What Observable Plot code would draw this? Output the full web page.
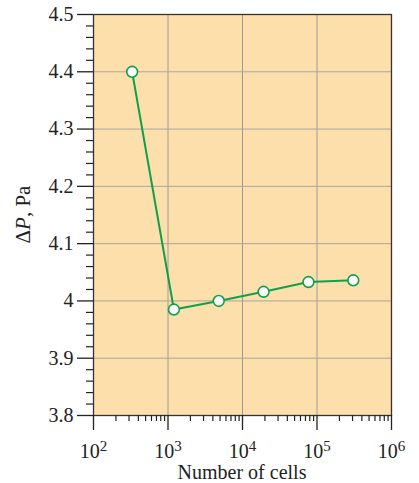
<!DOCTYPE html>
<html><head><meta charset="utf-8">
<script src="https://cdn.jsdelivr.net/npm/d3@7"></script>
<script src="https://cdn.jsdelivr.net/npm/@observablehq/plot@0.6"></script>
<style>body{margin:0;background:#fff}</style>
</head><body><div id="chart"></div>
<script>
const cells = [330, 1200, 4800, 19200, 76800, 307200];
const deltaP = [4.400, 3.985, 4.000, 4.016, 4.033, 4.036];
const xMajorTicks = [1e2, 1e3, 1e4, 1e5, 1e6];
const xExponents = ["2", "3", "4", "5", "6"];
const yMajorTicks = [3.8, 3.9, 4.0, 4.1, 4.2, 4.3, 4.4, 4.5];
const yTickLabels = ["3.8", "3.9", "4", "4.1", "4.2", "4.3", "4.4", "4.5"];
const xTitle = "Number of cells";

const data = cells.map((c, i) => ({cells: c, dp: deltaP[i]}));
const xMinor = d3.range(2, 6).flatMap(e => d3.range(2, 10).map(m => m * 10 ** e));
const yMinor = d3.range(0, 36).map(i => +(3.8 + i * 0.02).toFixed(2))
  .filter(v => !yMajorTicks.some(t => Math.abs(t - v) < 1e-9));

const W = 419, H = 483, mL = 93, mR = 28, mT = 14, mB = 68;
const green = "#0fa04a";

const plot = Plot.plot({
  width: W, height: H,
  marginTop: mT, marginRight: mR, marginBottom: mB, marginLeft: mL,
  style: {fontFamily: "'Liberation Serif', serif", fontSize: "20px", color: "#222", background: "white", overflow: "visible"},
  x: {type: "log", domain: [100, 1e6]},
  y: {domain: [3.8, 4.5]},
  marks: [
    Plot.frame({fill: "#fddfab", stroke: "none"}),
    Plot.gridX([1e3, 1e4, 1e5], {stroke: "#9a9a9a", strokeOpacity: 1}),
    Plot.gridY([3.9, 4.0, 4.1, 4.2, 4.3, 4.4], {stroke: "#aca69c", strokeOpacity: 1}),
    Plot.frame({stroke: "#333", strokeWidth: 1.3}),
    Plot.axisY(yMinor, {tickSize: 7, text: null, label: null, strokeWidth: 1.2}),
    Plot.axisY(yMajorTicks, {tickSize: 16, tickPadding: 4, label: null, strokeWidth: 1.3,
      tickFormat: d => yTickLabels[yMajorTicks.findIndex(t => Math.abs(t - d) < 1e-9)]}),
    Plot.axisX(xMinor, {tickSize: 6, text: null, label: null, strokeWidth: 1.2}),
    Plot.axisX(xMajorTicks, {tickSize: 15, tickPadding: 13, label: null, strokeWidth: 1.3,
      tickFormat: d => "10" + xExponents[xMajorTicks.indexOf(d)]}),
    Plot.line(data, {x: "cells", y: "dp", stroke: green, strokeWidth: 2}),
    Plot.dot(data, {x: "cells", y: "dp", r: 5.4, fill: "white", stroke: green, strokeWidth: 1.6})
  ]
});

const svg = d3.select(plot);
svg.selectAll('g[aria-label="x-axis tick label"] text').each(function() {
  const t = d3.select(this);
  const s = t.text();
  t.text(null);
  t.append("tspan").text(s.slice(0, 2));
  t.append("tspan").attr("dy", "-0.42em").attr("font-size", "0.75em").text(s.slice(2));
});

svg.append("text")
  .attr("x", mL + (W - mL - mR) / 2).attr("y", H - 4)
  .attr("text-anchor", "middle").attr("font-size", 20)
  .attr("fill", "#222")
  .text(xTitle);

const yl = svg.append("text")
  .attr("transform", `translate(30,${mT + (H - mT - mB) / 2}) rotate(-90)`)
  .attr("text-anchor", "middle").attr("font-size", 21)
  .attr("fill", "#222");
yl.append("tspan").text("Δ");
yl.append("tspan").attr("font-style", "italic").text("P");
yl.append("tspan").text(", Pa");

document.getElementById("chart").append(plot);
</script>
</body></html>
